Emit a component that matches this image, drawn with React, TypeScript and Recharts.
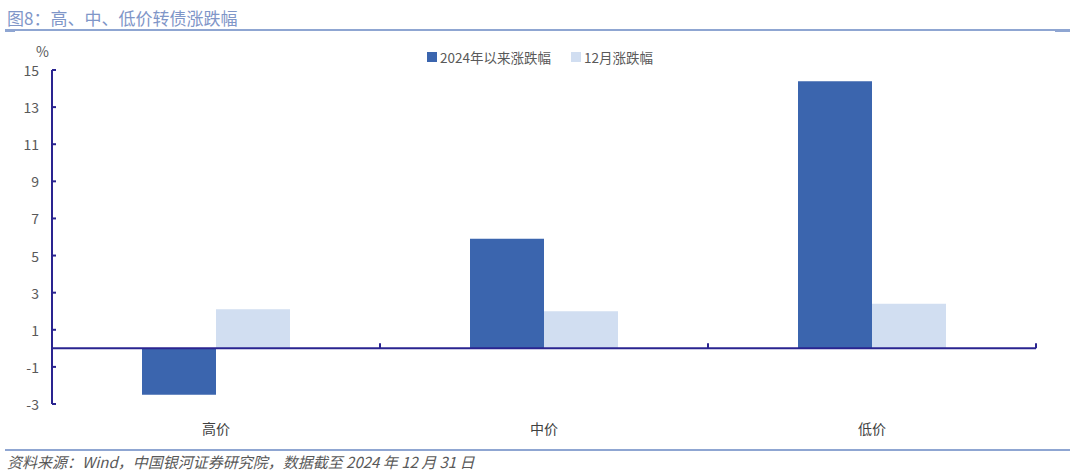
import React from 'react';
import { BarChart, Bar, XAxis, YAxis, ReferenceLine } from 'recharts';

const CATEGORIES = ['高价', '中价', '低价'];
const YTD_CHANGE = [-2.5, 5.9, 14.4];
const DEC_CHANGE = [2.1, 2.0, 2.4];
const Y_TICKS = [-3, -1, 1, 3, 5, 7, 9, 11, 13, 15];
const SERIES_NAMES = ['2024年以来涨跌幅', '12月涨跌幅'];

const DARK = '#3B65AE';
const LIGHT = '#D1DEF1';
const AXIS = '#2A2490';
const TEXT = '#595959';
const RULE = '#8FA6D2';
const FONT = '"Noto Sans CJK SC", "Noto Sans", sans-serif';

const W = 1080;
const H = 474;
const M = { top: 70, right: 44, left: 0, bottom: 30 };
const Y_W = 52;
const X_H = 40;
const PLOT_W = W - M.left - M.right - Y_W;
const PLOT_H = H - M.top - M.bottom - X_H;
const Y_MIN = -3;
const Y_MAX = 15;
const ZERO_Y = M.top + (PLOT_H * Y_MAX) / (Y_MAX - Y_MIN);
const BAND = PLOT_W / CATEGORIES.length;

const data = CATEGORIES.map((name, i) => ({ name, ytd: YTD_CHANGE[i], dec: DEC_CHANGE[i] }));

function YTick({ x, y, payload }: any) {
    const ax = x + 13;
    return (
        <g>
            <line x1={ax} x2={ax + 4} y1={y} y2={y} stroke={AXIS} strokeWidth={2} />
            <text x={x} y={y} textAnchor="end" dominantBaseline="central" fontSize={14} fill={TEXT} fontFamily={FONT}>
                {payload.value}
            </text>
        </g>
    );
}

function XTick({ x, y, payload }: any) {
    const bx = x + BAND / 2;
    return (
        <g>
            <line x1={bx} x2={bx} y1={ZERO_Y} y2={ZERO_Y - 5} stroke={AXIS} strokeWidth={2} />
            <text x={x} y={y + 24} textAnchor="middle" dominantBaseline="central" fontSize={14} fill="#404040" fontFamily={FONT}>
                {payload.value}
            </text>
        </g>
    );
}

export default function App() {
    const legendColors = [DARK, LIGHT];
    return (
        <div style={{ position: 'absolute', left: 0, top: 0, width: W, height: H, background: '#fff', overflow: 'hidden' }}>
            <div style={{ position: 'absolute', left: 7, top: 5, fontFamily: FONT, fontSize: 17, color: '#7F96C8', whiteSpace: 'nowrap' }}>
                图8：高、中、低价转债涨跌幅
            </div>
            <div style={{ position: 'absolute', left: 5, top: 29, width: 1065, height: 1.5, background: RULE }} />
            <div style={{ position: 'absolute', left: 5, top: 29, width: 10, height: 3, background: RULE }} />
            <div style={{ position: 'absolute', left: 1055, top: 29, width: 15, height: 3, background: RULE }} />
            <div style={{ position: 'absolute', left: 36, top: 41, fontFamily: FONT, fontSize: 14, color: TEXT }}>%</div>
            <div style={{ position: 'absolute', left: 0, top: 47, width: W, display: 'flex', justifyContent: 'center', gap: 20, fontFamily: FONT, fontSize: 13.5, color: TEXT }}>
                {SERIES_NAMES.map((label, i) => (
                    <span key={label} style={{ display: 'flex', alignItems: 'center' }}>
                        <span style={{ width: 10, height: 10, background: legendColors[i], marginRight: 3, display: 'inline-block' }} />
                        {label}
                    </span>
                ))}
            </div>
            <div style={{ position: 'absolute', left: 0, top: 0 }}>
                <BarChart width={W} height={H} data={data} margin={M} barCategoryGap={90} barGap={0}>
                    <XAxis
                        dataKey="name"
                        height={X_H}
                        axisLine={false}
                        tickLine={false}
                        tickSize={0}
                        tickMargin={0}
                        tick={<XTick />}
                        interval={0}
                    />
                    <YAxis
                        width={Y_W}
                        domain={[Y_MIN, Y_MAX]}
                        ticks={Y_TICKS}
                        interval={0}
                        axisLine={{ stroke: AXIS, strokeWidth: 2 }}
                        tickLine={false}
                        tickSize={0}
                        tickMargin={13}
                        tick={<YTick />}
                    />
                    <Bar dataKey="ytd" name={SERIES_NAMES[0]} fill={DARK} isAnimationActive={false} />
                    <Bar dataKey="dec" name={SERIES_NAMES[1]} fill={LIGHT} isAnimationActive={false} />
                    <ReferenceLine y={0} stroke={AXIS} strokeWidth={2} />
                </BarChart>
            </div>
            <div style={{ position: 'absolute', left: 5, top: 449, width: 1065, height: 1.5, background: RULE }} />
            <div style={{ position: 'absolute', left: 7, top: 451, fontFamily: FONT, fontSize: 15, fontStyle: 'italic', color: TEXT, whiteSpace: 'nowrap' }}>
                资料来源：Wind，中国银河证券研究院，数据截至 2024 年 12 月 31 日
            </div>
        </div>
    );
}
